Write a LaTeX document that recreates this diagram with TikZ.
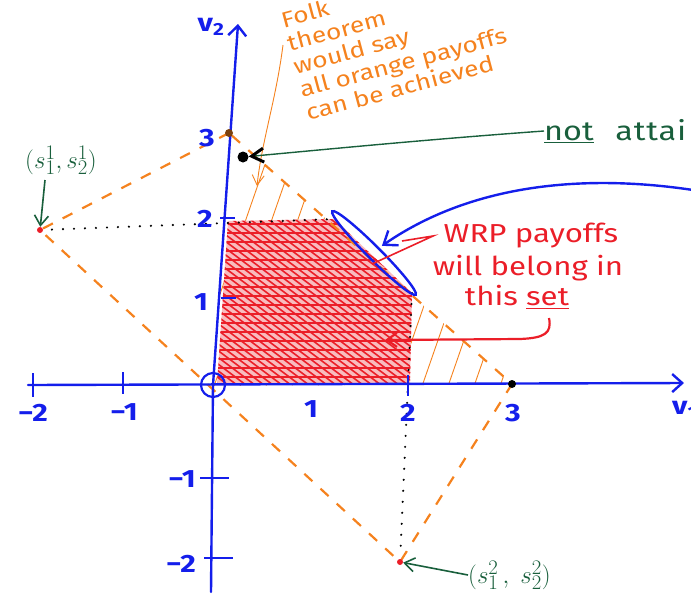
\documentclass[tikz,border=0pt]{standalone}
\usepackage{fontspec}
\setmainfont{Fira Sans}
\newfontfamily\hand[FakeStretch=1.2]{Fira Sans}
\usetikzlibrary{arrows.meta,shapes.geometric}
\definecolor{penblue}{RGB}{20,30,235}
\definecolor{penorange}{RGB}{245,130,30}
\definecolor{penred}{RGB}{235,30,40}
\definecolor{pengreen}{RGB}{25,95,60}
\begin{document}
\begin{tikzpicture}[x=1pt,y=-1pt,
  axis/.style={penblue, line width=2.4pt, line cap=round},
  tickmark/.style={penblue, line width=2.2pt},
  tlabel/.style={penblue, font=\hand\fontsize{25}{26}\selectfont\bfseries, inner sep=0pt},
  odash/.style={penorange, line width=2.2pt, dash pattern=on 11pt off 11pt},
  ohatch/.style={penorange, line width=0.9pt},
  rhatch/.style={penred, line width=1.6pt},
  dotline/.style={black, line width=2.4pt, line cap=round, dash pattern=on 0pt off 11pt},
  dotpt/.style={circle, fill, inner sep=0pt, minimum size=8pt},
  wrptext/.style={penred, font=\hand\fontsize{26}{28}\selectfont, inner sep=0pt},
  grtext/.style={pengreen, inner sep=0pt},
  barb/.style={-{Straight Barb[length=10pt,width=14pt]}},
]
\useasboundingbox (0,0) rectangle (691,598);

% key points
\coordinate (O) at (213,385);
\coordinate (xs) at (28,385);
\coordinate (xe) at (684,383);
\coordinate (ys) at (211,592);
\coordinate (ye) at (238,24);
\coordinate (P30) at (512,384);
\coordinate (P03) at (229,133);
\coordinate (s1) at (40,230);
\coordinate (s2) at (400,562);
\coordinate (R1) at (217,384);
\coordinate (R2) at (228,221);
\coordinate (R3) at (334,219);
\coordinate (R4) at (412,293);
\coordinate (R5) at (410,384);

% orange hatching of the feasible triangle
\begin{scope}
  \clip (214,386) -- (P30) -- (P03) -- cycle;
  \foreach \x in {186,212,...,540} \draw[ohatch] (\x,392) -- ++(92,-265);
\end{scope}

% red hatched region
\begin{scope}
  \clip (R1) -- (R2) -- (R3) -- (R4) -- (R5) -- cycle;
  \fill[penred!30] (200,200) rectangle (420,390);
  \foreach \k in {0,...,48} \draw[rhatch] ({-90+9*\k},160) -- ++(300,225);
  \foreach \yy in {224,233,...,384} \draw[rhatch, line width=1.1pt] (200,\yy) -- (420,\yy);
\end{scope}

% orange dashed polygon
\draw[odash] (P03) -- (s1) -- (s2) -- (P30) -- cycle;

% dotted projections
\draw[dotline, shorten <=12pt] (s1) -- (R3);
\draw[dotline, shorten >=8pt] (R4) -- (s2);

% axes
\draw[axis, -{Straight Barb[length=10pt,width=18pt]}] (xs) -- (xe);
\draw[axis, -{Straight Barb[length=10pt,width=18pt]}] (ys) -- (O) -- (ye);
\draw[penblue, line width=2.2pt] (O) circle (12pt);

% ticks x
\draw[tickmark] (33,373) -- (33,397);
\draw[tickmark] (123,372) -- (123,394);
\draw[tickmark] (408,375) -- (408,396);
% ticks y
\draw[tickmark] (220,218) -- (235,218);
\draw[tickmark] (221,298) -- (236,298);
\draw[tickmark] (200,478) -- (229,478);
\draw[tickmark] (204,558) -- (233,558);

% tick labels
\node[tlabel] (lxm2) at (33,413) {−2};
\node[tlabel] (lxm1) at (124,412) {−1};
\node[tlabel] (lx1) at (311,409) {1};
\node[tlabel] (lx2) at (408,413) {2};
\node[tlabel] (lx3) at (513,413) {3};
\node[tlabel, anchor=west] (lv1) at (672,410) {v\textsubscript{1}};
\node[tlabel] (ly3) at (207,138) {3};
\node[tlabel] (ly2) at (205,219) {2};
\node[tlabel] (ly1) at (201,302) {1};
\node[tlabel] (lym1) at (182,479) {−1};
\node[tlabel] (lym2) at (181,564) {−2};
\node[tlabel] (lv2) at (211,27) {v\textsubscript{2}};

% points
\node[dotpt, fill=black] (d30) at (P30) {};
\node[dotpt, fill=penorange!50!black] (d03) at (P03) {};
\node[dotpt, fill=penred, minimum size=6pt] (ds1) at (s1) {};
\node[dotpt, fill=penred, minimum size=6pt] (ds2) at (s2) {};
\node[dotpt, fill=black, minimum size=11pt] (A) at (243,157) {};

% blue ellipse around the diagonal edge
\node[draw=penblue, line width=2.4pt, ellipse, rotate=-45, minimum width=118pt,
      minimum height=13pt, inner sep=0pt] (ell) at (374,253) {};
\coordinate (bstart) at (693,190);
\draw[penblue, line width=2.4pt, -{Straight Barb[length=12pt,width=18pt]}, shorten >=3pt]
  (bstart) .. controls (600,176) and (480,178) .. (ell.north);

% Folk theorem text
\node[penorange, font=\hand\fontsize{22}{24}\selectfont, align=left, rotate=15,
      anchor=north west, inner sep=0pt] (folk) at (279,12)
  {Folk\\theorem\\would say\\all orange payoffs\\can be achieved};
\coordinate (fp) at (283,45);
\draw[penorange, line width=0.9pt, -{Straight Barb[length=10pt,width=12pt]}]
  (fp) .. controls (276,100) and (262,140) .. (257,186);

% "not attai"
\node[grtext, anchor=west, font=\hand\fontsize{27}{28}\selectfont] (na) at (544,131)
  {\underline{not}\hspace{0.8em}{\addfontfeature{LetterSpace=3}attai}};
\draw[pengreen, line width=1.4pt, -{Straight Barb[length=12pt,width=14pt,line width=3pt,color=black]}]
  (na.west) .. controls (420,140) and (320,150) .. (A);

% WRP text
\node[wrptext] (w1) at (531,236) {WRP payoffs};
\node[wrptext] (w2) at (528,268) {will belong in};
\node[wrptext] (w3) at (517,297) {this \underline{set}};
\coordinate (wa) at (433,236);
\coordinate (wb) at (402,241);
\coordinate (wc) at (372,264);
\draw[penred, line width=1.6pt] (wb) -- (wa) -- (wc);
\coordinate (sp) at (549,318);
\coordinate (sq) at (385,340);
\draw[penred, line width=2.2pt, -{Straight Barb[length=10pt,width=14pt]}]
  (sp) .. controls (552,333) and (545,338) .. (520,339) -- (sq);

% s labels
\node[grtext, font=\fontsize{29}{30}\selectfont] (ls1) at (61,160) {$(s^1_1,s^1_2)$};
\draw[pengreen, line width=1.6pt, barb] (45,180) -- (ds1);
\node[grtext, font=\fontsize{30}{32}\selectfont, anchor=west] (ls2) at (468,575) {$(s^2_1\,,\;s^2_2)$};
\draw[pengreen, line width=1.6pt, barb] (ls2.west) -- (ds2);
\end{tikzpicture}
\end{document}
